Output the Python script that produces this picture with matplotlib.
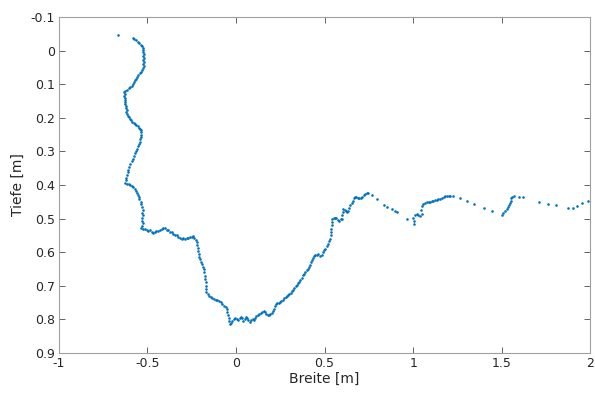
import matplotlib.pyplot as plt
import numpy as np

# Querprofil: Breite [m] und Tiefe [m]
breite = [
    -0.668,
    -0.584, -0.575, -0.566, -0.556, -0.546, -0.537, -0.529, -0.525, -0.523, -0.526,
    -0.522, -0.524, -0.521, -0.525, -0.522, -0.524, -0.521, -0.525, -0.529, -0.536,
    -0.544, -0.552, -0.558, -0.565, -0.571, -0.577, -0.584, -0.590, -0.597, -0.605,
    -0.615, -0.625, -0.630, -0.628, -0.632, -0.626, -0.628, -0.624, -0.626, -0.621,
    -0.623, -0.618, -0.620, -0.615, -0.611, -0.606, -0.600, -0.592, -0.585, -0.578,
    -0.570, -0.562, -0.555, -0.548, -0.542, -0.536,
    -0.535, -0.537, -0.536, -0.540, -0.542, -0.546, -0.552, -0.558, -0.564, -0.570,
    -0.578, -0.584, -0.590, -0.596, -0.602, -0.608, -0.612, -0.616, -0.619, -0.622,
    -0.626, -0.618, -0.607, -0.598, -0.590, -0.580, -0.572, -0.566, -0.560, -0.555,
    -0.550, -0.545, -0.538, -0.534, -0.529, -0.527, -0.530, -0.526, -0.529, -0.531,
    -0.528, -0.532, -0.534,
    -0.525, -0.515, -0.505, -0.495, -0.486, -0.477, -0.467, -0.458, -0.449, -0.440,
    -0.430, -0.420, -0.410, -0.401, -0.392, -0.383, -0.373, -0.364, -0.355, -0.345,
    -0.335, -0.326, -0.317, -0.307, -0.298, -0.288, -0.279, -0.269, -0.260, -0.250,
    -0.241, -0.235, -0.228, -0.222,
    -0.219, -0.217, -0.214, -0.211, -0.208, -0.204, -0.200, -0.194, -0.187, -0.182,
    -0.178, -0.176, -0.175, -0.172, -0.170, -0.169, -0.168, -0.160, -0.152, -0.143,
    -0.133, -0.124, -0.115, -0.105, -0.096, -0.086, -0.077, -0.068, -0.059, -0.053,
    -0.049, -0.045, -0.042, -0.038, -0.034, -0.027, -0.020, -0.013, -0.006, 0.003,
    0.013, 0.020, 0.028, 0.036, 0.041, 0.048, 0.055, 0.062, 0.070, 0.079,
    0.086, 0.094, 0.100, 0.107, 0.115, 0.123, 0.131, 0.140, 0.148, 0.157,
    0.164, 0.172, 0.180, 0.188, 0.194, 0.201, 0.208, 0.213, 0.218, 0.224,
    0.232, 0.240, 0.248, 0.256, 0.264, 0.272, 0.280, 0.287, 0.294, 0.301,
    0.308, 0.315, 0.322, 0.329, 0.336, 0.343, 0.350, 0.357, 0.364, 0.371,
    0.378, 0.385, 0.392, 0.399, 0.406, 0.413, 0.418, 0.423, 0.428, 0.433,
    0.440, 0.446, 0.455, 0.465, 0.475, 0.484, 0.490, 0.497, 0.505, 0.512,
    0.518, 0.523, 0.530, 0.534, 0.537, 0.539, 0.541, 0.540, 0.543, 0.551,
    0.559, 0.567, 0.575, 0.584, 0.591, 0.597, 0.600, 0.603, 0.606, 0.613,
    0.620, 0.627, 0.634, 0.640, 0.646, 0.653, 0.659, 0.664, 0.672, 0.680,
    0.688, 0.696, 0.704, 0.712, 0.720, 0.729, 0.738, 0.745,
    0.766, 0.798, 0.836, 0.852, 0.879, 0.896, 0.911, 0.964, 0.998, 1.004,
    1.006, 1.011, 1.020, 1.030, 1.040, 1.049, 1.047, 1.049, 1.058, 1.068,
    1.077, 1.087, 1.096, 1.106, 1.115, 1.124, 1.134, 1.143, 1.153, 1.162,
    1.172, 1.181, 1.191, 1.201, 1.211, 1.224, 1.262, 1.303, 1.345, 1.401,
    1.448, 1.501, 1.510, 1.520, 1.529, 1.537, 1.543, 1.548, 1.552, 1.555,
    1.560, 1.567, 1.599, 1.623, 1.708, 1.764, 1.806, 1.872, 1.902, 1.924,
    1.953, 1.987,
]
tiefe = [
    -0.046,
    -0.038, -0.034, -0.030, -0.026, -0.022, -0.018, -0.013, -0.008, -0.002, 0.004,
    0.010, 0.016, 0.022, 0.028, 0.034, 0.040, 0.046, 0.052, 0.058, 0.063,
    0.068, 0.073, 0.078, 0.084, 0.089, 0.094, 0.099, 0.104, 0.108, 0.112,
    0.116, 0.119, 0.124, 0.130, 0.135, 0.140, 0.146, 0.152, 0.158, 0.164,
    0.170, 0.176, 0.182, 0.188, 0.194, 0.199, 0.204, 0.208, 0.212, 0.215,
    0.218, 0.221, 0.225, 0.229, 0.233, 0.237,
    0.243, 0.250, 0.257, 0.264, 0.271, 0.278, 0.285, 0.292, 0.299, 0.306,
    0.314, 0.322, 0.330, 0.338, 0.346, 0.354, 0.362, 0.370, 0.378, 0.386,
    0.393, 0.396, 0.398, 0.400, 0.404, 0.407, 0.411, 0.417, 0.423, 0.429,
    0.436, 0.443, 0.450, 0.458, 0.466, 0.474, 0.482, 0.490, 0.498, 0.506,
    0.514, 0.522, 0.529,
    0.532, 0.530, 0.534, 0.536, 0.533, 0.540, 0.544, 0.541, 0.538, 0.536,
    0.533, 0.530, 0.528, 0.529, 0.533, 0.535, 0.539, 0.541, 0.546, 0.548,
    0.550, 0.555, 0.558, 0.561, 0.558, 0.560, 0.557, 0.559, 0.556, 0.555,
    0.553, 0.558, 0.563, 0.569,
    0.578, 0.587, 0.596, 0.605, 0.613, 0.621, 0.628, 0.636, 0.643, 0.651,
    0.660, 0.670, 0.680, 0.690, 0.700, 0.710, 0.718, 0.724, 0.729, 0.732,
    0.735, 0.738, 0.741, 0.743, 0.745, 0.748, 0.754, 0.759, 0.764, 0.769,
    0.778, 0.787, 0.796, 0.805, 0.813, 0.810, 0.804, 0.800, 0.797, 0.800,
    0.802, 0.796, 0.792, 0.797, 0.804, 0.798, 0.793, 0.796, 0.802, 0.808,
    0.803, 0.798, 0.801, 0.797, 0.790, 0.786, 0.783, 0.781, 0.779, 0.776,
    0.778, 0.783, 0.786, 0.788, 0.783, 0.780, 0.776, 0.768, 0.760, 0.754,
    0.751, 0.752, 0.748, 0.745, 0.741, 0.737, 0.733, 0.729, 0.727, 0.724,
    0.720, 0.716, 0.712, 0.707, 0.702, 0.697, 0.692, 0.688, 0.682, 0.676,
    0.669, 0.664, 0.658, 0.654, 0.649, 0.644, 0.637, 0.630, 0.623, 0.617,
    0.612, 0.607, 0.608, 0.606, 0.610, 0.607, 0.600, 0.594, 0.589, 0.583,
    0.575, 0.567, 0.560, 0.550, 0.540, 0.530, 0.520, 0.510, 0.502, 0.498,
    0.499, 0.497, 0.503, 0.506, 0.502, 0.500, 0.490, 0.480, 0.470, 0.474,
    0.478, 0.480, 0.476, 0.468, 0.460, 0.454, 0.447, 0.440, 0.435, 0.437,
    0.439, 0.438, 0.440, 0.436, 0.431, 0.427, 0.425, 0.423,
    0.430, 0.443, 0.460, 0.465, 0.472, 0.476, 0.481, 0.501, 0.497, 0.506,
    0.516, 0.490, 0.487, 0.488, 0.491, 0.485, 0.474, 0.462, 0.457, 0.455,
    0.452, 0.452, 0.450, 0.449, 0.447, 0.446, 0.444, 0.443, 0.441, 0.439,
    0.436, 0.434, 0.433, 0.432, 0.434, 0.433, 0.440, 0.448, 0.457, 0.469,
    0.476, 0.489, 0.484, 0.477, 0.472, 0.466, 0.460, 0.453, 0.447, 0.440,
    0.435, 0.434, 0.435, 0.435, 0.450, 0.457, 0.460, 0.467, 0.467, 0.462,
    0.454, 0.448,
]

xticks = [-1, -0.5, 0, 0.5, 1, 1.5, 2]
yticks = [-0.1, 0, 0.1, 0.2, 0.3, 0.4, 0.5, 0.6, 0.7, 0.8, 0.9]

grau = '#262626'
fig = plt.figure(figsize=(5.95, 3.94), dpi=100)
ax = fig.add_axes([0.099, 0.104, 0.893, 0.853])

ax.scatter(breite, tiefe, s=3.5, color='#0072BD', linewidths=0)

ax.set_xlim(-1, 2)
ax.set_ylim(0.9, -0.1)
ax.set_xticks(xticks)
ax.set_yticks(yticks)
ax.set_xticklabels(['%g' % v for v in xticks])
ax.set_yticklabels(['%g' % v for v in yticks])
ax.tick_params(direction='in', top=True, right=True, length=4, width=0.5,
               colors=grau, labelsize=9, pad=3)
for s in ax.spines.values():
    s.set_color('#a0a0a0')
    s.set_linewidth(0.8)

ax.set_xlabel('Breite [m]', fontsize=10, color=grau, labelpad=1)
ax.set_ylabel('Tiefe [m]', fontsize=10, color=grau, labelpad=4)

plt.savefig('out.png', dpi=100)
